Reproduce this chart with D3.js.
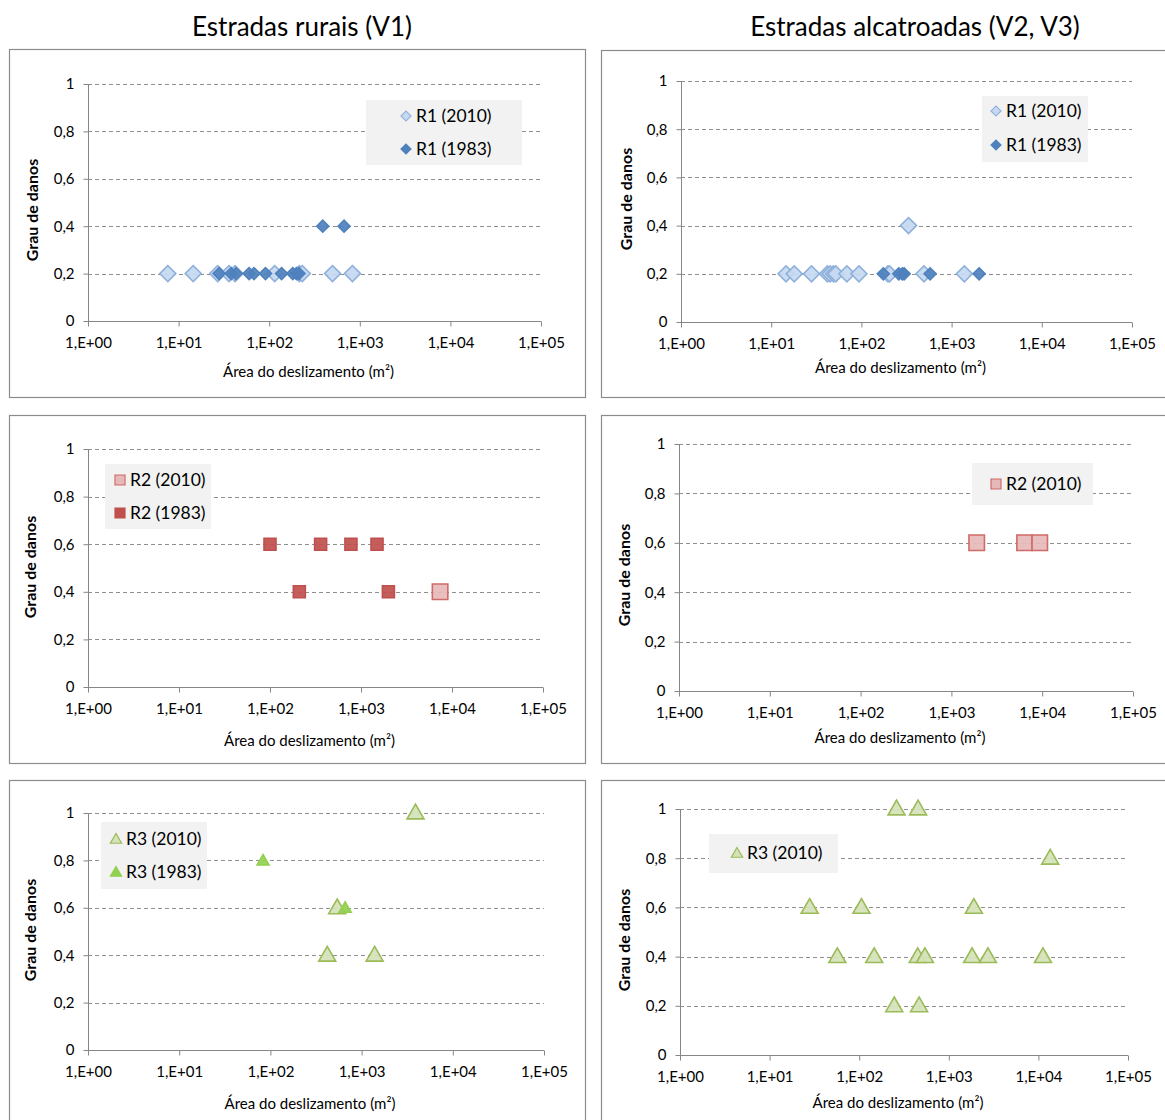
<!DOCTYPE html>
<html>
<head>
<meta charset="utf-8">
<script src="https://cdn.jsdelivr.net/npm/d3@7"></script>
<style>
    body { margin: 0; background: #fff; }
    text { font-family: Lato, "Open Sans", sans-serif; fill: #000; }
    .tick text { font-size: 15px; }
    .axisTitle { font-size: 15px; }
    .yTitle { font-size: 16px; font-weight: bold; }
    .legendText { font-size: 17.5px; }
    .colTitle { font-size: 26px; }
</style>
</head>
<body>
<script>
// column titles
var colTitles = ["Estradas rurais (V1)", "Estradas alcatroadas (V2, V3)"];

// x tick values (area, m2) and y tick values (damage degree)
var xTicks = [1, 10, 100, 1000, 10000, 100000];
var yTicks = [0, 0.2, 0.4, 0.6, 0.8, 1];

// [area m2, damage degree]
// R1 - rural roads
var r1Rural2010 = [[7.6, 0.2], [14.5, 0.2], [27, 0.2], [36, 0.2], [42, 0.2], [115, 0.2], [215, 0.2], [232, 0.2], [500, 0.2], [830, 0.2]];
var r1Rural1983 = [[28, 0.2], [38, 0.2], [43, 0.2], [60, 0.2], [68, 0.2], [91, 0.2], [137, 0.2], [182, 0.2], [200, 0.2], [213, 0.2], [390, 0.4], [670, 0.4]];
// R1 - paved roads
var r1Paved2010 = [[14.6, 0.2], [18, 0.2], [28, 0.2], [42, 0.2], [45, 0.2], [49, 0.2], [52, 0.2], [69, 0.2], [94, 0.2], [197, 0.2], [205, 0.2], [494, 0.2], [1385, 0.2], [333, 0.4]];
var r1Paved1983 = [[175, 0.2], [260, 0.2], [284, 0.2], [298, 0.2], [578, 0.2], [2020, 0.2]];
// R2 - rural roads
var r2Rural2010 = [[7400, 0.4]];
var r2Rural1983 = [[100, 0.6], [360, 0.6], [775, 0.6], [1500, 0.6], [210, 0.4], [2000, 0.4]];
// R2 - paved roads
var r2Paved2010 = [[1900, 0.6], [6400, 0.6], [9400, 0.6]];
// R3 - rural roads
var r3Rural2010 = [[3900, 1], [540, 0.6], [420, 0.4], [1390, 0.4]];
var r3Rural1983 = [[83, 0.8], [660, 0.6]];
// R3 - paved roads
var r3Paved2010 = [[261, 1], [454, 1], [13550, 0.8], [28, 0.6], [106, 0.6], [1905, 0.6], [57, 0.4], [147, 0.4], [450, 0.4], [541, 0.4], [1820, 0.4], [2733, 0.4], [11250, 0.4], [246, 0.2], [466, 0.2]];

// marker styles
var styles = {
    blueLight: { shape: "diamond", size: 128, legendSize: 50, fill: "#c6d9f1", stroke: "#8eb0da" },
    blueDark: { shape: "diamond", size: 72, legendSize: 50, fill: "#4f81bd", stroke: "#4f81bd" },
    redLight: { shape: "square", size: 240, legendSize: 100, fill: "#e6b9b8", stroke: "#cf6b68" },
    redDark: { shape: "square", size: 144, legendSize: 100, fill: "#c0504d", stroke: "#c0504d" },
    greenLight: { shape: "triangle", size: 125, legendSize: 55, fill: "#d4e2b8", stroke: "#9bbb59" },
    greenDark: { shape: "triangle", size: 62, legendSize: 55, fill: "#92d050", stroke: "#92d050" }
};

// panel layouts
var panels = [
    { box: [9, 49, 576, 348], x: [88, 541], y: [84, 321], yTitle: [33, 210], xTitleY: 377,
      legend: { box: [366, 100, 156, 65], mx: 406, rows: [116, 149] },
      series: [{ name: "R1 (2010)", data: r1Rural2010, style: "blueLight" }, { name: "R1 (1983)", data: r1Rural1983, style: "blueDark" }] },
    { box: [601, 50, 580, 347], x: [681, 1132], y: [81, 322], yTitle: [627, 199], xTitleY: 373,
      legend: { box: [982, 96, 106, 66], mx: 996, rows: [111, 145] },
      series: [{ name: "R1 (2010)", data: r1Paved2010, style: "blueLight" }, { name: "R1 (1983)", data: r1Paved1983, style: "blueDark" }] },
    { box: [9, 415, 576, 348], x: [88, 543], y: [449, 687], yTitle: [31, 567], xTitleY: 746,
      legend: { box: [105, 464, 106, 65], mx: 120, rows: [480, 513] },
      series: [{ name: "R2 (2010)", data: r2Rural2010, style: "redLight" }, { name: "R2 (1983)", data: r2Rural1983, style: "redDark" }] },
    { box: [601, 415, 580, 348], x: [679, 1133], y: [444, 691], yTitle: [625, 575], xTitleY: 743,
      legend: { box: [972, 463, 121, 42], mx: 996, rows: [484] },
      series: [{ name: "R2 (2010)", data: r2Paved2010, style: "redLight" }] },
    { box: [9, 780, 576, 360], x: [88, 544], y: [813, 1050], yTitle: [31, 930], xTitleY: 1109,
      legend: { box: [101, 822, 106, 67], mx: 116, rows: [839, 872] },
      series: [{ name: "R3 (2010)", data: r3Rural2010, style: "greenLight" }, { name: "R3 (1983)", data: r3Rural1983, style: "greenDark" }] },
    { box: [601, 780, 580, 360], x: [680, 1128], y: [809, 1055], yTitle: [625, 940], xTitleY: 1108,
      legend: { box: [709, 834, 129, 39], mx: 737, rows: [853] },
      series: [{ name: "R3 (2010)", data: r3Paved2010, style: "greenLight" }] }
];

function symbolPath(st, size) {
    var type = st.shape === "triangle" ? d3.symbolTriangle : d3.symbolSquare;
    return d3.symbol().type(type).size(size)();
}

function markerTransform(st, x, y) {
    if (st.shape === "diamond") return "translate(" + x + "," + y + ") rotate(45)";
    if (st.shape === "triangle") return "translate(" + x + "," + (y + 1) + ")";
    return "translate(" + x + "," + y + ")";
}

function drawPanel(svg, p) {
    var g = svg.append("g");

    //panel frame
    g.append("rect")
        .attr("x", p.box[0] + 0.5).attr("y", p.box[1] + 0.5)
        .attr("width", p.box[2]).attr("height", p.box[3])
        .attr("fill", "#fff").attr("stroke", "#8c8c8c").attr("stroke-width", 1.2);

    var xScale = d3.scaleLog().domain([1, 100000]).range(p.x);
    var yScale = d3.scaleLinear().domain([0, 1]).range([p.y[1], p.y[0]]);

    //dashed gridlines
    g.append("g").selectAll("line")
        .data(yTicks.filter(function (d) { return d > 0; }))
        .join("line")
        .attr("x1", p.x[0]).attr("x2", p.x[1])
        .attr("y1", function (d) { return Math.round(yScale(d)) + 0.5; })
        .attr("y2", function (d) { return Math.round(yScale(d)) + 0.5; })
        .attr("stroke", "#8f8f8f").attr("stroke-dasharray", "4,3");

    //x axis
    var xAxis = d3.axisBottom(xScale)
        .tickValues(xTicks)
        .tickSize(5)
        .tickPadding(11)
        .tickFormat(function (d) { return "1,E+0" + Math.round(Math.log10(d)); });
    var gx = g.append("g")
        .attr("transform", "translate(0," + (Math.round(p.y[1]) + 0.5) + ")")
        .call(xAxis);

    //y axis
    var yAxis = d3.axisLeft(yScale)
        .tickValues(yTicks)
        .tickSize(5)
        .tickPadding(9)
        .tickFormat(function (d) { return d === 0 || d === 1 ? String(d) : String(d).replace(".", ","); });
    var gy = g.append("g")
        .attr("transform", "translate(" + (p.x[0] + 0.5) + ",0)")
        .call(yAxis);

    [gx, gy].forEach(function (a) {
        a.selectAll("path, line").attr("stroke", "#868686");
        a.select(".domain").attr("d", a === gx ? "M" + p.x[0] + ",0H" + p.x[1] : "M0," + p.y[0] + "V" + p.y[1]);
        a.selectAll("text").attr("font-family", null).attr("font-size", null).attr("fill", "#000");
    });

    //axis titles
    g.append("text")
        .attr("class", "axisTitle")
        .attr("x", (p.x[0] + p.x[1]) / 2 - 6)
        .attr("y", p.xTitleY)
        .attr("text-anchor", "middle")
        .text("Área do deslizamento (m²)");

    g.append("text")
        .attr("class", "yTitle")
        .attr("transform", "translate(" + (p.yTitle[0] + 5) + "," + p.yTitle[1] + ") rotate(-90)")
        .attr("text-anchor", "middle")
        .text("Grau de danos");

    //legend
    var lg = g.append("g");
    lg.append("rect")
        .attr("x", p.legend.box[0]).attr("y", p.legend.box[1])
        .attr("width", p.legend.box[2]).attr("height", p.legend.box[3])
        .attr("fill", "#f2f2f2");

    p.series.forEach(function (s, i) {
        var st = styles[s.style];
        var ry = p.legend.rows[i];
        lg.append("path")
            .attr("d", symbolPath(st, st.legendSize))
            .attr("transform", markerTransform(st, p.legend.mx, ry))
            .attr("fill", st.fill).attr("stroke", st.stroke).attr("stroke-width", 1.2);
        lg.append("text")
            .attr("class", "legendText")
            .attr("x", p.legend.mx + 10)
            .attr("y", ry + 6)
            .text(s.name);
    });

    //markers
    p.series.forEach(function (s) {
        var st = styles[s.style];
        g.append("g").selectAll("path")
            .data(s.data)
            .join("path")
            .attr("d", symbolPath(st, st.size))
            .attr("transform", function (d) { return markerTransform(st, xScale(d[0]), yScale(d[1])); })
            .attr("fill", st.fill)
            .attr("fill-opacity", 0.92)
            .attr("stroke", st.stroke)
            .attr("stroke-width", 1.6);
    });
}

function init() {
    var svg = d3.select("body").append("svg")
        .attr("width", 1165)
        .attr("height", 1120);

    svg.selectAll(".colTitle")
        .data(colTitles)
        .join("text")
        .attr("class", "colTitle")
        .attr("x", function (d, i) { return i === 0 ? 302 : 915; })
        .attr("y", 36)
        .attr("text-anchor", "middle")
        .text(function (d) { return d; });

    panels.forEach(function (p) { drawPanel(svg, p); });
}

window.onload = init;
</script>
</body>
</html>
